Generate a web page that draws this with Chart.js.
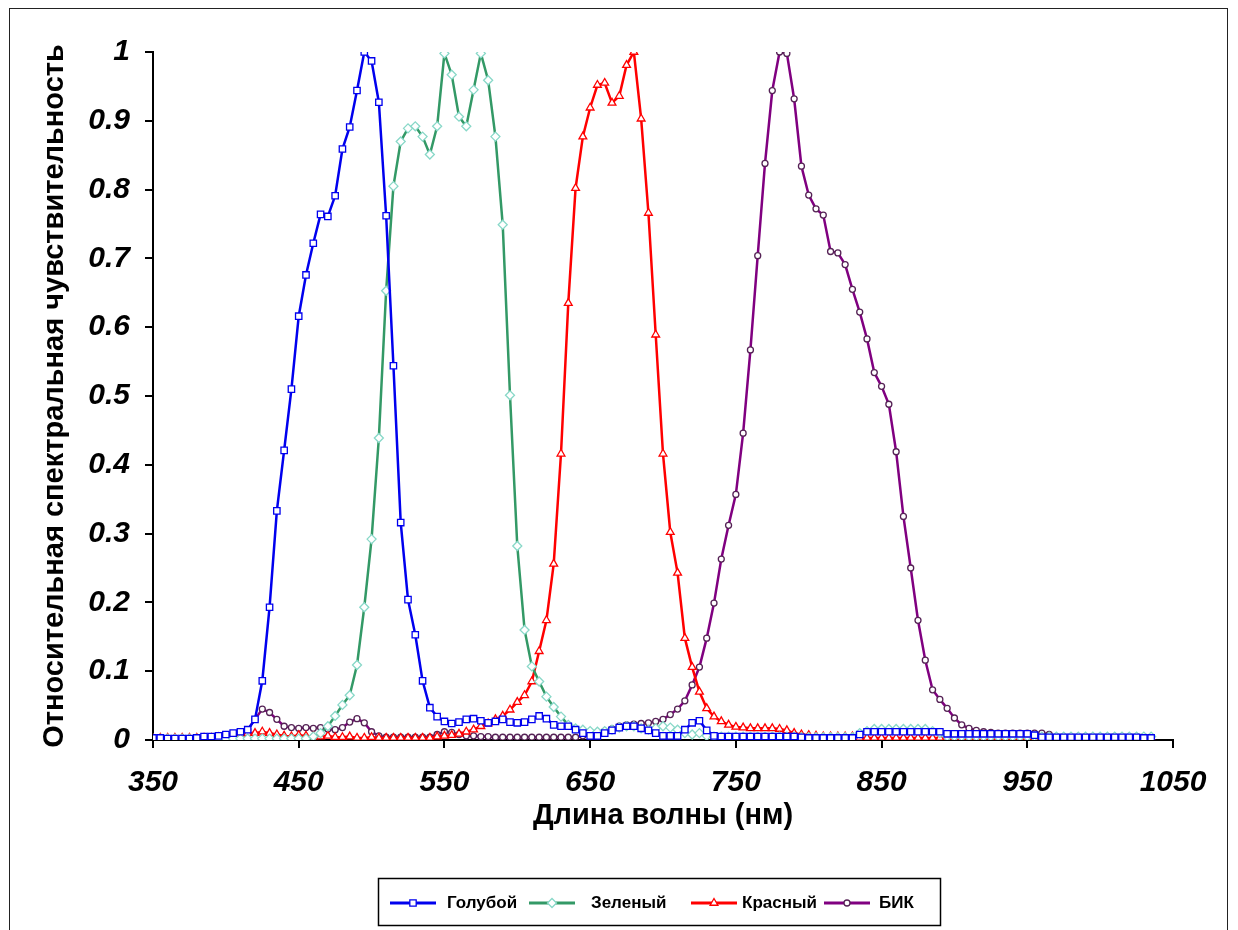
<!DOCTYPE html>
<html>
<head>
<meta charset="utf-8">
<title>Спектральная чувствительность</title>
<script src="https://cdn.jsdelivr.net/npm/chart.js@4.4.1/dist/chart.umd.min.js"></script>
<style>
    body { margin: 0; background: #fff; }
    #frame {
        position: absolute; left: 9px; top: 8px;
        width: 1219px; height: 940px;
        border: 1.5px solid #222; box-sizing: border-box;
    }
    #wrap { position: absolute; left: 0; top: 0; width: 1238px; height: 930px; }
</style>
</head>
<body>
<div id="frame"></div>
<div id="wrap"><canvas id="spectrumChart"></canvas></div>
<script>
// wavelengths, nm (step 5)
var wavelengths = [
    350, 355, 360, 365, 370, 375, 380, 385, 390, 395,
    400, 405, 410, 415, 420, 425, 430, 435, 440, 445,
    450, 455, 460, 465, 470, 475, 480, 485, 490, 495,
    500, 505, 510, 515, 520, 525, 530, 535, 540, 545,
    550, 555, 560, 565, 570, 575, 580, 585, 590, 595,
    600, 605, 610, 615, 620, 625, 630, 635, 640, 645,
    650, 655, 660, 665, 670, 675, 680, 685, 690, 695,
    700, 705, 710, 715, 720, 725, 730, 735, 740, 745,
    750, 755, 760, 765, 770, 775, 780, 785, 790, 795,
    800, 805, 810, 815, 820, 825, 830, 835, 840, 845,
    850, 855, 860, 865, 870, 875, 880, 885, 890, 895,
    900, 905, 910, 915, 920, 925, 930, 935, 940, 945,
    950, 955, 960, 965, 970, 975, 980, 985, 990, 995,
    1000, 1005, 1010, 1015, 1020, 1025, 1030, 1035
];

var blue = [
    0.003, 0.003, 0.002, 0.002, 0.002, 0.002, 0.003, 0.005, 0.005, 0.006,
    0.008, 0.010, 0.012, 0.015, 0.030, 0.086, 0.193, 0.333, 0.421, 0.510,
    0.616, 0.676, 0.722, 0.764, 0.761, 0.791, 0.859, 0.891, 0.944, 1.000,
    0.987, 0.927, 0.762, 0.544, 0.316, 0.204, 0.153, 0.086, 0.047, 0.034,
    0.027, 0.024, 0.026, 0.030, 0.031, 0.028, 0.025, 0.027, 0.030, 0.026,
    0.025, 0.026, 0.030, 0.035, 0.031, 0.022, 0.020, 0.020, 0.015, 0.010,
    0.006, 0.006, 0.010, 0.014, 0.018, 0.020, 0.020, 0.017, 0.014, 0.010,
    0.006, 0.006, 0.006, 0.015, 0.025, 0.028, 0.014, 0.006, 0.005, 0.005,
    0.005, 0.005, 0.005, 0.005, 0.005, 0.005, 0.005, 0.005, 0.005, 0.004,
    0.003, 0.003, 0.003, 0.003, 0.003, 0.003, 0.003, 0.008, 0.012, 0.012,
    0.012, 0.012, 0.012, 0.012, 0.012, 0.012, 0.012, 0.012, 0.012, 0.009,
    0.009, 0.009, 0.009, 0.009, 0.009, 0.009, 0.009, 0.009, 0.009, 0.009,
    0.009, 0.007, 0.004, 0.004, 0.004, 0.004, 0.004, 0.004, 0.004, 0.004,
    0.004, 0.004, 0.004, 0.004, 0.004, 0.004, 0.003, 0.003
];

var green = [
    0.002, 0.002, 0.002, 0.002, 0.002, 0.002, 0.002, 0.002, 0.002, 0.002,
    0.002, 0.002, 0.002, 0.002, 0.002, 0.002, 0.002, 0.002, 0.002, 0.002,
    0.002, 0.002, 0.005, 0.010, 0.020, 0.035, 0.051, 0.065, 0.109, 0.193,
    0.292, 0.439, 0.653, 0.805, 0.870, 0.889, 0.892, 0.877, 0.851, 0.892,
    0.998, 0.967, 0.906, 0.892, 0.945, 0.998, 0.959, 0.877, 0.749, 0.501,
    0.282, 0.160, 0.107, 0.085, 0.063, 0.048, 0.034, 0.022, 0.017, 0.015,
    0.013, 0.012, 0.013, 0.015, 0.018, 0.020, 0.020, 0.017, 0.015, 0.017,
    0.020, 0.018, 0.015, 0.010, 0.008, 0.010, 0.006, 0.005, 0.005, 0.005,
    0.005, 0.005, 0.005, 0.005, 0.005, 0.005, 0.005, 0.005, 0.005, 0.004,
    0.004, 0.004, 0.004, 0.004, 0.004, 0.004, 0.004, 0.010, 0.013, 0.016,
    0.016, 0.016, 0.016, 0.016, 0.016, 0.016, 0.016, 0.013, 0.010, 0.005,
    0.005, 0.005, 0.005, 0.005, 0.005, 0.005, 0.005, 0.005, 0.005, 0.005,
    0.005, 0.005, 0.005, 0.005, 0.005, 0.005, 0.005, 0.005, 0.005, 0.005,
    0.005, 0.005, 0.005, 0.005, 0.005, 0.005, 0.005, 0.005
];

var red = [
    0.002, 0.003, 0.003, 0.003, 0.003, 0.003, 0.003, 0.003, 0.003, 0.004,
    0.005, 0.006, 0.008, 0.010, 0.010, 0.012, 0.010, 0.008, 0.006, 0.005,
    0.007, 0.006, 0.005, 0.005, 0.006, 0.004, 0.004, 0.005, 0.003, 0.003,
    0.004, 0.003, 0.003, 0.003, 0.003, 0.003, 0.003, 0.003, 0.003, 0.005,
    0.006, 0.007, 0.009, 0.012, 0.015, 0.020, 0.024, 0.030, 0.035, 0.044,
    0.055, 0.065, 0.085, 0.129, 0.174, 0.256, 0.416, 0.635, 0.802, 0.877,
    0.919, 0.952, 0.955, 0.926, 0.936, 0.981, 1.000, 0.903, 0.766, 0.589,
    0.416, 0.302, 0.243, 0.148, 0.106, 0.070, 0.046, 0.034, 0.027, 0.022,
    0.019, 0.018, 0.017, 0.017, 0.017, 0.017, 0.016, 0.014, 0.010, 0.008,
    0.007, 0.006, 0.005, 0.005, 0.005, 0.005, 0.005, 0.003, 0.003, 0.003,
    0.003, 0.003, 0.003, 0.003, 0.003, 0.003, 0.003, 0.003, 0.003, 0.003,
    0.003, 0.003, 0.003, 0.003, 0.003, 0.003, 0.003, 0.003, 0.003, 0.003,
    0.003, 0.003, 0.003, 0.003, 0.003, 0.003, 0.003, 0.003, 0.003, 0.003,
    0.003, 0.003, 0.003, 0.003, 0.003, 0.003, 0.003, 0.003
];

var nir = [
    0.002, 0.002, 0.002, 0.002, 0.002, 0.002, 0.002, 0.002, 0.002, 0.002,
    0.004, 0.006, 0.010, 0.015, 0.030, 0.045, 0.040, 0.030, 0.020, 0.018,
    0.017, 0.018, 0.017, 0.018, 0.016, 0.015, 0.018, 0.026, 0.031, 0.025,
    0.012, 0.006, 0.004, 0.004, 0.004, 0.004, 0.004, 0.004, 0.004, 0.008,
    0.012, 0.011, 0.008, 0.006, 0.006, 0.005, 0.005, 0.004, 0.004, 0.004,
    0.004, 0.004, 0.004, 0.004, 0.004, 0.004, 0.004, 0.004, 0.004, 0.006,
    0.008, 0.010, 0.013, 0.016, 0.020, 0.022, 0.023, 0.024, 0.025, 0.027,
    0.030, 0.037, 0.045, 0.057, 0.080, 0.106, 0.148, 0.199, 0.263, 0.312,
    0.357, 0.446, 0.567, 0.704, 0.838, 0.944, 1.000, 0.998, 0.932, 0.834,
    0.792, 0.772, 0.763, 0.710, 0.708, 0.691, 0.655, 0.622, 0.583, 0.534,
    0.514, 0.488, 0.419, 0.325, 0.250, 0.174, 0.116, 0.073, 0.059, 0.046,
    0.032, 0.022, 0.017, 0.014, 0.012, 0.011, 0.010, 0.010, 0.010, 0.010,
    0.010, 0.010, 0.010, 0.008, 0.005, 0.005, 0.005, 0.005, 0.005, 0.005,
    0.005, 0.005, 0.005, 0.005, 0.005, 0.005, 0.005, 0.003
];

var seriesNames = ["Голубой", "Зеленый", "Красный", "БИК"];

//turn a value list into x/y points
function toPoints(values) {
    return wavelengths.map(function (w, i) {
        return { x: w, y: values[i] };
    });
}

var tickFont = { family: "'Liberation Sans', Arial, sans-serif", size: 30, style: "italic", weight: "bold" };
var titleFont = { family: "'Liberation Sans', Arial, sans-serif", size: 29, weight: "bold" };

//legend in a box under the chart, drawn like the Excel one
var boxLegend = {
    id: "boxLegend",
    afterDraw: function (chart) {
        var c = chart.ctx;
        var itemX = [390, 529, 691, 824];
        var textGap = [57, 62, 51, 55];
        var y = 903;
        c.save();
        c.strokeStyle = "#000";
        c.lineWidth = 1.5;
        c.strokeRect(378.5, 878.5, 562, 47);
        c.font = "bold 17px 'Liberation Sans', Arial, sans-serif";
        c.textBaseline = "middle";
        chart.data.datasets.forEach(function (ds, i) {
            var x = itemX[i];
            c.strokeStyle = ds.borderColor;
            c.lineWidth = 3;
            c.beginPath();
            c.moveTo(x, y);
            c.lineTo(x + 46, y);
            c.stroke();
            c.fillStyle = "#fff";
            c.strokeStyle = ds.pointBorderColor;
            c.lineWidth = ds.pointBorderWidth;
            Chart.helpers.drawPoint(c, {
                pointStyle: ds.pointStyle,
                radius: ds.pointRadius,
                borderWidth: ds.pointBorderWidth
            }, x + 23, y);
            c.fillStyle = "#000";
            c.fillText(ds.label, x + textGap[i], y);
        });
        c.restore();
    }
};

function makeSet(name, values, color, marker, markerColor, radius) {
    return {
        label: name,
        data: toPoints(values),
        borderColor: color,
        borderWidth: 2.5,
        pointStyle: marker,
        pointRadius: radius,
        pointBackgroundColor: "#fff",
        pointBorderColor: markerColor,
        pointBorderWidth: 1.3,
        tension: 0
    };
}

var ctx = document.getElementById("spectrumChart");

var chart = new Chart(ctx, {
    type: "line",
    data: {
        datasets: [
            makeSet(seriesNames[0], blue, "#0000ee", "rect", "#0000ee", 4.5),
            makeSet(seriesNames[1], green, "#339966", "rectRot", "#88d8c8", 4.5),
            makeSet(seriesNames[2], red, "#ff0000", "triangle", "#ff0000", 4.5),
            makeSet(seriesNames[3], nir, "#800080", "circle", "#552255", 3)
        ]
    },
    options: {
        responsive: true,
        maintainAspectRatio: false,
        animation: false,
        layout: { padding: { left: 30, right: 65, top: 52, bottom: 97 } },
        plugins: {
            legend: { display: false },
            tooltip: { enabled: false }
        },
        scales: {
            x: {
                type: "linear",
                min: 350,
                max: 1050,
                ticks: {
                    stepSize: 100, color: "#000", font: tickFont, padding: 17, maxRotation: 0,
                    callback: function (v) { return String(v); }
                },
                grid: { drawOnChartArea: false, drawTicks: true, tickLength: 8, color: "#000", lineWidth: 2 },
                border: { display: true, color: "#000", width: 2 },
                title: { display: true, text: "Длина волны (нм)", color: "#000", font: titleFont, padding: { top: 0, bottom: 0 } },
                afterFit: function (s) { s.height = 93; }
            },
            y: {
                min: 0,
                max: 1,
                ticks: {
                    stepSize: 0.1, color: "#000", font: tickFont, padding: 15,
                    callback: function (v) { return String(Math.round(v * 10) / 10); }
                },
                grid: { drawOnChartArea: false, drawTicks: true, tickLength: 8, color: "#000", lineWidth: 2 },
                border: { display: true, color: "#000", width: 2 },
                title: { display: true, text: "Относительная спектральная чувствительность", color: "#000", font: titleFont, padding: { top: 8, bottom: 0 } },
                afterFit: function (s) { s.width = 123; }
            }
        }
    },
    plugins: [boxLegend]
});
</script>
</body>
</html>
